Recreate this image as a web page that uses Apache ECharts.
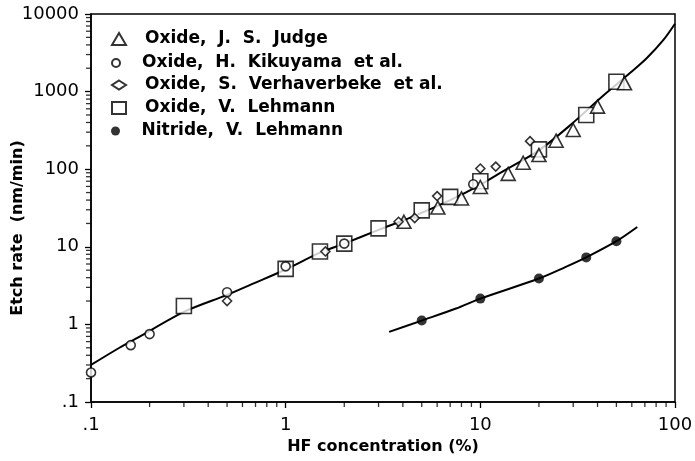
<!DOCTYPE html>
<html>
<head>
<meta charset="utf-8">
<script src="https://cdn.jsdelivr.net/npm/echarts@6/dist/echarts.min.js"></script>
<style>
  html, body { margin: 0; padding: 0; background: #fff; }
  #main { width: 695px; height: 461px; }
</style>
</head>
<body>
<div id="main"></div>
<script>
// data: [HF %, etch rate nm/min]
var judge = [[4.05, 21], [6.05, 32], [8, 42], [10, 59], [13.9, 87], [16.6, 121], [20, 152], [24.5, 233], [30, 320], [40, 640], [55, 1280]];
var kikuyama = [[0.1, 0.24], [0.16, 0.54], [0.2, 0.75], [0.5, 2.6], [1, 5.6], [2, 11], [9.2, 64]];
var verhaverbeke = [[0.5, 2.0], [1.6, 8.7], [3.8, 21], [4.6, 23.5], [6, 45], [10, 102], [12, 108], [18, 230]];
var lehmannOxide = [[0.3, 1.73], [1, 5.2], [1.5, 8.7], [2, 11], [3, 17.3], [5, 29.5], [7, 44], [10, 70], [20, 180], [35, 500], [50, 1340]];
var lehmannNitride = [[5, 1.12], [10, 2.15], [20, 3.9], [35, 7.3], [50, 11.8]];

// fitted curves
var oxideFit = [[0.1, 0.30], [0.14, 0.5], [0.175, 0.68], [0.3, 1.45], [0.5, 2.4], [0.67, 3.3], [1, 5.1], [1.5, 8.4], [2, 11], [3, 16.5], [4.5, 24.5], [7, 40], [10, 63], [13, 93], [20, 175], [29, 370], [43, 900], [58.5, 1720], [71.5, 2690], [87, 4600], [100, 7500]];
var nitrideFit = [[3.4, 0.8], [5, 1.12], [7.5, 1.6], [10, 2.15], [20, 3.9], [27, 5.4], [35, 7.3], [50, 11.8], [64, 18]];

// tick labels
var xTickLabels = {0.1: '.1', 1: '1', 10: '10', 100: '100'};
var yTickLabels = {0.1: '.1', 1: '1', 10: '10', 100: '100', 1000: '1000', 10000: '10000'};
var xDecades = [0.1, 1, 10];
var yDecades = [0.1, 1, 10, 100, 1000];

var names = ['Oxide,  J.  S.  Judge', 'Oxide,  H.  Kikuyama  et al.', 'Oxide,  S.  Verhaverbeke  et al.', 'Oxide,  V.  Lehmann', 'Nitride,  V.  Lehmann'];

// minor tick positions (2..9 in every decade)
var xMinor = [], yMinor = [];
xDecades.forEach(function (d) { for (var m = 2; m <= 9; m++) xMinor.push([+(m * d).toPrecision(3), 0.1]); });
yDecades.forEach(function (d) { for (var m = 2; m <= 9; m++) yMinor.push([0.1, +(m * d).toPrecision(3)]); });

var myChart = echarts.init(document.getElementById('main'));

var hollow = { color: '#fff', borderColor: '#000', borderWidth: 1.6 };
var font = 'DejaVu Sans';

function legendAt(name, top, size) {
  return {
    data: [name], orient: 'vertical', left: 111, top: top, padding: 0,
    itemWidth: 14, itemHeight: size, selectedMode: false,
    textStyle: { fontFamily: font, fontWeight: 'bold', fontSize: 17, color: '#000', lineHeight: 20, padding: [0, 0, 0, 14] }
  };
}

var option = {
  animation: false,
  backgroundColor: '#fff',
  grid: { left: 91, right: 20, top: 14, bottom: 59, outerBoundsMode: 'none', containLabel: false,
    show: true, borderColor: '#000', borderWidth: 1.5, backgroundColor: 'transparent' },
  legend: [
    legendAt(names[0], 29, 12),
    legendAt(names[1], 53, 8),
    legendAt(names[2], 75, 9),
    legendAt(names[3], 98, 12),
    legendAt(names[4], 121, 9)
  ],
  xAxis: {
    type: 'log', logBase: 10, min: 0.1, max: 100,
    name: 'HF concentration (%)', nameLocation: 'middle', nameGap: 37, nameMoveOverlap: false,
    nameTextStyle: { fontFamily: font, fontWeight: 'bold', fontSize: 16, color: '#000' },
    axisLine: { lineStyle: { color: '#000', width: 1.5 } },
    axisTick: { show: true, length: 6, lineStyle: { color: '#000', width: 1.3 } },
    axisLabel: { margin: 14, fontFamily: font, fontSize: 18, color: '#000',
      formatter: function (v) { return xTickLabels[+v.toPrecision(3)] || ''; } },
    splitLine: { show: false }
  },
  yAxis: {
    type: 'log', logBase: 10, min: 0.1, max: 10000,
    name: 'Etch rate  (nm/min)', nameLocation: 'middle', nameGap: 65, nameMoveOverlap: false,
    nameTextStyle: { fontFamily: font, fontWeight: 'bold', fontSize: 16, color: '#000', padding: [0, 40, 0, 0] },
    axisLine: { lineStyle: { color: '#000', width: 1.5 } },
    axisTick: { show: true, length: 6, lineStyle: { color: '#000', width: 1.3 } },
    axisLabel: { margin: 12, fontFamily: font, fontSize: 18, color: '#000',
      formatter: function (v) { return yTickLabels[+v.toPrecision(3)] || ''; } },
    splitLine: { show: false }
  },
  series: [
    { type: 'scatter', data: xMinor, symbol: 'rect', symbolSize: [1.3, 5], symbolOffset: [0, 2.5], clip: false, silent: true, itemStyle: { color: '#000' }, z: 1 },
    { type: 'scatter', data: yMinor, symbol: 'rect', symbolSize: [5, 1.3], symbolOffset: [-2.5, 0], clip: false, silent: true, itemStyle: { color: '#000' }, z: 1 },
    { type: 'line', data: oxideFit, smooth: 0.3, showSymbol: false, lineStyle: { color: '#000', width: 2 }, silent: true, z: 2 },
    { type: 'line', data: nitrideFit, smooth: 0.3, showSymbol: false, lineStyle: { color: '#000', width: 2 }, silent: true, z: 2 },
    { name: names[3], type: 'scatter', data: lehmannOxide, symbol: 'rect', symbolSize: 15, itemStyle: hollow, z: 3 },
    { name: names[0], type: 'scatter', data: judge, symbol: 'triangle', symbolSize: [14, 13], itemStyle: hollow, z: 4 },
    { name: names[1], type: 'scatter', data: kikuyama, symbol: 'circle', symbolSize: 9, itemStyle: hollow, z: 5 },
    { name: names[2], type: 'scatter', data: verhaverbeke, symbol: 'diamond', symbolSize: 9, itemStyle: hollow, z: 5 },
    { name: names[4], type: 'scatter', data: lehmannNitride, symbol: 'circle', symbolSize: 10, itemStyle: { color: '#000' }, z: 5 }
  ]
};

myChart.setOption(option);
</script>
</body>
</html>
